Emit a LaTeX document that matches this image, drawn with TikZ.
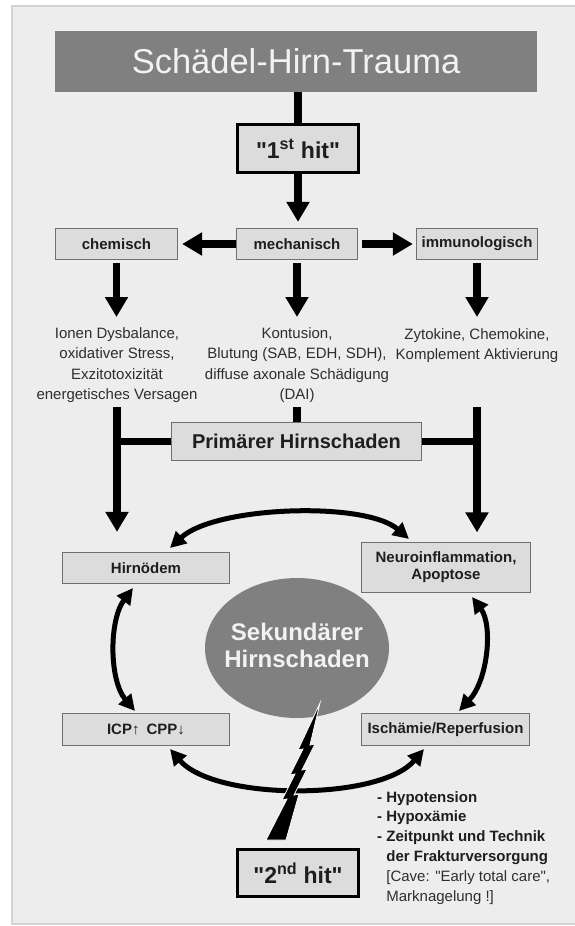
\documentclass[tikz,border=0pt]{standalone}
\usepackage{fontspec}
\setmainfont{Liberation Sans}
\newfontfamily\lsans{Liberation Sans}
\usetikzlibrary{arrows.meta,shapes.geometric}
\definecolor{bgc}{HTML}{EDEDED}
\definecolor{framec}{HTML}{D4D4D4}
\definecolor{boxc}{HTML}{DCDCDC}
\definecolor{boxline}{HTML}{707070}
\definecolor{darkg}{HTML}{808080}
\definecolor{txt}{HTML}{1E1E1E}
\definecolor{txtreg}{HTML}{2E2E2E}
\definecolor{lighttxt}{HTML}{F2F2F2}
\begin{document}
\begin{tikzpicture}[x=1pt,y=-1pt,
  lbox/.style={draw=boxline, line width=1.2pt, fill=boxc, inner sep=0pt, text=txt,
    font=\lsans\fontsize{15}{17}\selectfont\bfseries, align=center},
  hitbox/.style={draw=black, line width=3pt, fill=boxc, inner sep=0pt, text=txt,
    minimum width=121pt, font=\lsans\fontsize{23}{26}\selectfont\bfseries},
  plaintext/.style={inner sep=0pt, text=txtreg, font=\lsans\fontsize{15}{20.5}\selectfont, align=center},
  thickline/.style={line width=7.5pt, draw=black},
  bigarrow/.style={line width=7.5pt, draw=black, -{Triangle[width=22pt,length=20pt]}},
  curvearrow/.style={line width=5pt, draw=black,
    {Triangle[width=16pt,length=16pt]}-{Triangle[width=16pt,length=16pt]}},
]
\useasboundingbox (0,0) rectangle (574,926);
\fill[white] (0,0) rectangle (574,926);
\draw[framec, fill=bgc, line width=1.5pt] (12,6) rectangle (590,924);

% title
\node[fill=darkg, minimum width=482pt, minimum height=61pt, inner sep=0pt, text=lighttxt,
  font=\lsans\fontsize{34.5}{40}\selectfont] (title) at (296,61.5) {Schädel-Hirn-Trauma};

% 1st hit
\node[hitbox, minimum height=48pt] (hit1) at (298,148.5) {"1\textsuperscript{st} hit"};

% row of boxes
\node[lbox, minimum width=122pt, minimum height=31pt] (chem) at (116.5,244) {chemisch};
\node[lbox, minimum width=121pt, minimum height=31pt] (mech) at (297,244) {mechanisch};
\node[lbox, minimum width=121pt, minimum height=31pt] (immu) at (477,244) {immunologisch};

% texts
\node[plaintext] (txtL) at (117,365) {Ionen Dysbalance,\\oxidativer Stress,\\Exzitotoxizität\\energetisches Versagen};
\node[plaintext] (txtM) at (297,365) {Kontusion,\\Blutung (SAB, EDH, SDH),\\diffuse axonale Schädigung\\(DAI)};
\node[plaintext] (txtR) at (477,345.5) {Zytokine, Chemokine,\\Komplement Aktivierung};

% primary damage
\node[lbox, minimum width=250pt, minimum height=38pt, font=\lsans\fontsize{20}{24}\selectfont\bfseries] (prim) at (296.5,441.5) {Primärer Hirnschaden};

% secondary boxes
\node[lbox, minimum width=167pt, minimum height=31pt] (hirn) at (146,568) {Hirnödem};
\node[lbox, minimum width=169pt, minimum height=50pt] (neuro) at (446,567.5) {Neuroinflammation,\\Apoptose};
\node[lbox, minimum width=167pt, minimum height=32pt] (icp) at (146,729.5) {ICP↑\hspace{7pt}CPP↓};
\node[lbox, minimum width=168pt, minimum height=32pt] (isch) at (445.5,729.5) {Ischämie/Reperfusion};

% ellipse
\node[ellipse, fill=darkg, minimum width=184pt, minimum height=140pt, inner sep=0pt] (sek) at (297,648) {};
\node[inner sep=0pt, text=lighttxt, align=center, font=\lsans\fontsize{24}{27}\selectfont\bfseries] (sektxt) at (297,645) {Sekundärer\\Hirnschaden};

% 2nd hit
\node[hitbox, minimum height=47pt] (hit2) at (298,873) {"2\textsuperscript{nd} hit"};

% list
\node[anchor=north west, inner sep=0pt, text=txt, font=\lsans\fontsize{15}{19.8}\selectfont\bfseries] (list) at (377,788)
 {\begin{tabular}{@{}l@{\ }l@{}}-&Hypotension\\-&Hypoxämie\\-&Zeitpunkt und Technik\\&der Frakturversorgung\\
 &\color{txtreg}\mdseries [Cave: "Early total care",\\&\color{txtreg}\mdseries Marknagelung !]\end{tabular}};

% straight connectors
\draw[thickline] (title.south -| hit1.north) -- (hit1.north);
\draw[bigarrow, shorten >=6pt] (hit1.south) -- (hit1.south |- mech.north);
\draw[bigarrow, shorten >=4pt] (mech.west) -- (chem.east);
\draw[bigarrow, shorten <=4pt, shorten >=3pt] (mech.east) -- (immu.west);

\coordinate (tL) at (116.5,317);
\coordinate (tM) at (297,317);
\coordinate (tR) at (477,317);
\draw[bigarrow, shorten <=3pt] (chem.south) -- (tL);
\draw[bigarrow, shorten <=3pt] (mech.south) -- (tM);
\draw[bigarrow, shorten <=3pt] (immu.south) -- (tR);

\coordinate (sL) at (117,407);
\coordinate (sM) at (297,407);
\coordinate (sR) at (477,407);
\draw[bigarrow, shorten >=20pt] (sL) -- (sL |- hirn.north);
\draw[bigarrow, shorten >=9.5pt] (sR) -- (sR |- neuro.north);
\draw[thickline] (sL |- prim.west) -- (prim.west);
\draw[thickline] (prim.east) -- (prim.east -| sR);
\draw[thickline] (sM) -- (sM |- prim.north);

% curved double arrows
\coordinate (a1) at (170,548);
\coordinate (a2) at (409,539);
\coordinate (b1) at (133,588);
\coordinate (b2) at (135,711);
\coordinate (c1) at (472,597);
\coordinate (c2) at (459,711);
\coordinate (d1) at (170,749);
\coordinate (d2) at (424,749);
\draw[curvearrow] (a1) .. controls (215,506) and (365,501) .. (a2);
\draw[curvearrow] (b1) .. controls (109,620) and (109,680) .. (b2);
\draw[curvearrow] (c1) .. controls (493,625) and (488,680) .. (c2);
\draw[curvearrow] (d1) .. controls (215,801) and (380,801) .. (d2);

% lightning bolt
\fill[black, draw=white, line width=0.8pt]
  (320,703) -- (310,745) -- (315,744) -- (302,770) -- (307,769) -- (294,795) -- (299,794)
  -- (286,840) -- (266,840) -- (287,799) -- (282,800) -- (295,774) -- (290,775)
  -- (303,749) -- (298,750) -- cycle;
\end{tikzpicture}
\end{document}
